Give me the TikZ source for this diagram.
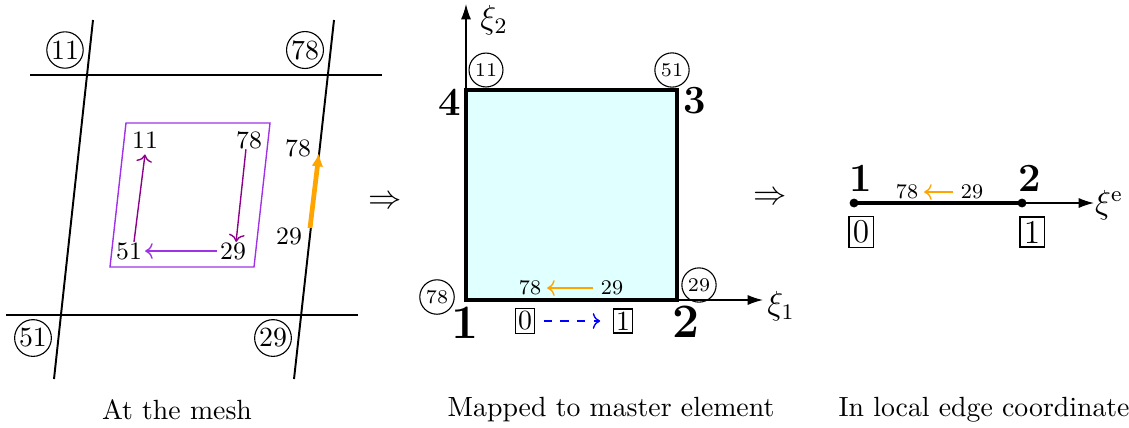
\documentclass[tikz,border=0pt]{standalone}
\usetikzlibrary{arrows.meta}
\definecolor{myorange}{RGB}{255,165,0}
\definecolor{boxviolet}{RGB}{160,50,230}
\definecolor{arrviolet}{RGB}{140,0,140}
\definecolor{lcyan}{RGB}{224,255,255}
\begin{document}
\begin{tikzpicture}[x=0.36pt,y=-0.36pt,
  meshline/.style={line width=0.7pt},
  bigcirc/.style={circle,draw,inner sep=0.4pt,font=\normalsize},
  smallcirc/.style={circle,draw,inner sep=1.1pt,font=\scriptsize},
  plbl/.style={inner sep=1pt,font=\small},
  mlbl/.style={inner sep=1pt,font=\fontsize{7.5}{9}\selectfont},
  bx/.style={draw,inner sep=1pt,line width=0.4pt},
  rbx/.style={draw,inner sep=1.4pt,line width=0.4pt,font=\large},
  bignum/.style={inner sep=0pt,font=\LARGE\bfseries},
  topnum/.style={inner sep=0pt,font=\Large\bfseries},
  axis/.style={line width=0.5pt,-{Latex[length=5.5pt,width=3.6pt]}},
  thinarr/.style={line width=0.5pt,->},
  captext/.style={inner sep=0pt,font=\normalsize},
  implies/.style={inner sep=0pt,font=\large}
]
\useasboundingbox (0,0) rectangle (1129,427);

% ---------------- Left panel: mesh ----------------
\coordinate (L1) at (93,20);  \coordinate (L2) at (54,379);
\coordinate (R1) at (334,20); \coordinate (R2) at (294,379);
\coordinate (T1) at (30,75);  \coordinate (T2) at (382,75);
\coordinate (B1) at (6,315);  \coordinate (B2) at (358,315);
\draw[meshline] (L1) -- (L2);
\draw[meshline] (R1) -- (R2);
\draw[meshline] (T1) -- (T2);
\draw[meshline] (B1) -- (B2);

\node[bigcirc] (c11) at (65,50) {11};
\node[bigcirc] (c78) at (305,50) {78};
\node[bigcirc] (c51) at (33,338) {51};
\node[bigcirc] (c29) at (273,338) {29};

\coordinate (pb1) at (126,123); \coordinate (pb2) at (270,123);
\coordinate (pb3) at (254,267); \coordinate (pb4) at (110,267);
\draw[boxviolet,line width=0.5pt] (pb1) -- (pb2) -- (pb3) -- (pb4) -- cycle;

\node[plbl] (p11) at (145,140) {11};
\node[plbl] (p78) at (249,140) {78};
\node[plbl] (p51) at (129,251) {51};
\node[plbl] (p29) at (233,251) {29};
\draw[thinarr,arrviolet] ([xshift=1.8pt,yshift=-1pt]p51.north) -- ([yshift=-1pt]p11.south);
\draw[thinarr,arrviolet] ([xshift=-1.1pt,yshift=1pt]p78.south) -- ([xshift=1.1pt,yshift=-1pt]p29.north);
\draw[thinarr,boxviolet] (p29.west) -- (p51.east);

\node[plbl] (o78) at (298,148) {78};
\node[plbl] (o29) at (289,236) {29};
\coordinate (oa) at (310,228);
\coordinate (ob) at (319,153);
\draw[myorange,line width=1.7pt,-{Latex[length=4.8pt,width=4.2pt]}] (oa) -- (ob);

\node[implies] (imp1) at (385,202) {$\Rightarrow$};
\node[captext] (cap1) at (177,410) {At the mesh};

% ---------------- Middle panel: master element ----------------
\coordinate (m1) at (466,300); \coordinate (m2) at (677,300);
\coordinate (m3) at (677,90);  \coordinate (m4) at (466,90);
\coordinate (ax2) at (466,4);  \coordinate (ax1) at (763,300);
\fill[lcyan] (m1) -- (m2) -- (m3) -- (m4) -- cycle;
\draw[axis] (m1) -- (ax2);
\draw[axis] (m1) -- (ax1);
\draw[line width=1.1pt,line join=miter] (m1) -- (m2) -- (m3) -- (m4) -- cycle;
\node[inner sep=0pt,font=\large] (xi2) at (494,20) {$\xi_2$};
\node[inner sep=0pt,font=\large] (xi1) at (781,306) {$\xi_1$};

\node[smallcirc] (mc11) at (486,70) {11};
\node[smallcirc] (mc51) at (672,70) {51};
\node[smallcirc] (mc78) at (437,297) {78};
\node[smallcirc] (mc29) at (699,285) {29};

\node[topnum] (b4) at (450,102) {4};
\node[topnum] (b3) at (695,101) {3};
\node[bignum] (b1) at (465,323) {1};
\node[bignum] (b2) at (686,322) {2};

\node[mlbl] (mo78) at (530,288) {78};
\node[mlbl] (mo29) at (612,288) {29};
\draw[thinarr,myorange,shorten <=1.5pt,shorten >=1pt] (mo29) -- (mo78);

\node[bx] (bx0) at (525,321) {0};
\node[bx] (bx1) at (623,321) {1};
\draw[thinarr,blue,dashed,shorten <=3pt,shorten >=4.5pt] (bx0) -- (bx1);

\node[implies] (imp2) at (770,198) {$\Rightarrow$};
\node[captext] (cap2) at (611,410) {Mapped to master element};

% ---------------- Right panel: local edge ----------------
\coordinate (e1) at (854,203);
\coordinate (e2) at (1022,203);
\coordinate (eax) at (1094,203);
\draw[axis] (e2) -- (eax);
\draw[line width=1.1pt] (e1) -- (e2);
\fill (e1) circle (1.6pt);
\fill (e2) circle (1.6pt);
\node[inner sep=0pt,font=\large] (xie) at (1109,205) {$\xi^{\mathrm{e}}$};

\node[topnum] (r1) at (861,178) {1};
\node[topnum] (r2) at (1030,178) {2};
\node[mlbl] (ro78) at (907,192) {78};
\node[mlbl] (ro29) at (972,192) {29};
\draw[thinarr,myorange,shorten <=1.5pt,shorten >=1pt] (ro29) -- (ro78);

\node[rbx] (rb0) at (861,232) {0};
\node[rbx] (rb1) at (1032,232) {1};

\node[captext,anchor=west] (cap3) at (838,410) {In local edge coordinates};
\end{tikzpicture}
\end{document}
